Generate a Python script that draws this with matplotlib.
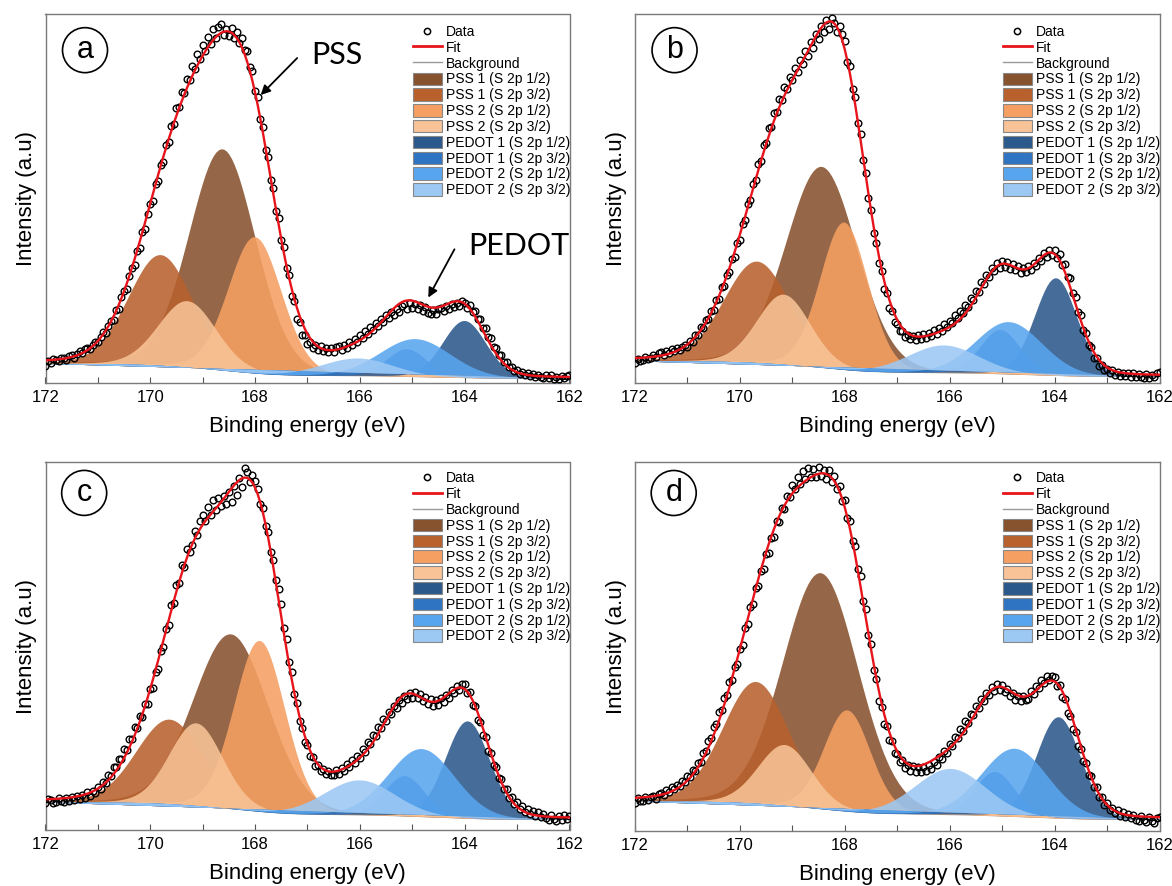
import numpy as np
import matplotlib.pyplot as plt
from matplotlib.lines import Line2D
from matplotlib.patches import Patch, Ellipse

plt.rcParams['font.family'] = ['Liberation Sans', 'DejaVu Sans']

comp_names = ['PSS 1 (S 2p 1/2)', 'PSS 1 (S 2p 3/2)', 'PSS 2 (S 2p 1/2)', 'PSS 2 (S 2p 3/2)',
              'PEDOT 1 (S 2p 1/2)', 'PEDOT 1 (S 2p 3/2)', 'PEDOT 2 (S 2p 1/2)', 'PEDOT 2 (S 2p 3/2)']
comp_colors = ['#87522E', '#B8612D', '#F59F62', '#F8C396',
               '#2C598C', '#2F74C2', '#58A5EF', '#9CC8F4']

# measured spectra, 172 -> 162 eV in 0.05 eV steps (10 points per row)
data_a = [4.6, 5.9, 5.5, 6.4, 6.3, 6.0, 6.9, 6.8, 6.3, 7.4,
          7.6, 6.9, 7.9, 8.6, 8.0, 9.3, 9.6, 9.2, 10.4, 11.2,
          11.0, 12.6, 13.7, 13.6, 15.5, 16.9, 17.1, 19.8, 20.1, 23.2,
          24.9, 25.6, 28.9, 31.3, 31.9, 35.8, 36.6, 40.9, 41.8, 45.7,
          48.4, 49.3, 53.9, 54.8, 59.1, 60.0, 64.5, 65.2, 69.6, 70.1,
          74.4, 74.7, 78.9, 78.6, 82.5, 82.1, 86.0, 85.2, 89.1, 87.9,
          91.6, 90.1, 93.9, 92.0, 95.8, 93.4, 96.4, 97.4, 94.2, 95.9,
          94.0, 96.3, 93.6, 95.2, 92.1, 93.5, 90.2, 90.1, 85.6, 84.5,
          79.2, 77.4, 71.5, 69.4, 63.1, 61.2, 55.0, 52.8, 46.6, 44.6,
          38.7, 36.8, 31.1, 29.2, 23.7, 22.1, 17.3, 16.5, 12.9, 12.9,
          10.5, 11.1, 9.4, 10.3, 9.0, 9.9, 8.6, 9.6, 8.5, 9.5,
          8.4, 9.7, 9.9, 9.0, 10.4, 9.6, 11.0, 10.3, 11.9, 11.2,
          12.9, 12.2, 14.1, 13.3, 15.2, 14.4, 16.3, 15.4, 17.4, 16.6,
          18.4, 17.5, 19.3, 18.4, 20.1, 19.2, 20.9, 21.3, 20.1, 21.6,
          20.4, 21.5, 20.1, 21.1, 19.5, 20.5, 18.9, 18.7, 19.9, 18.8,
          20.0, 20.3, 19.4, 20.8, 20.0, 21.4, 20.5, 21.8, 20.8, 22.1,
          21.8, 20.4, 21.2, 19.2, 19.6, 17.3, 17.4, 15.0, 14.8, 12.4,
          12.1, 9.8, 9.6, 7.5, 7.5, 5.7, 5.7, 4.3, 4.4, 3.3,
          3.5, 2.5, 2.9, 2.1, 2.6, 1.8, 2.4, 1.6, 2.3, 1.5,
          1.3, 2.2, 1.4, 2.1, 1.2, 1.6, 1.1, 2.0, 1.3, 1.9,
          2.1]
data_b = [5.4, 6.6, 5.9, 6.2, 7.1, 6.4, 6.7, 7.6, 7.0, 8.1,
          8.3, 7.6, 8.8, 8.1, 9.2, 8.6, 9.5, 8.9, 9.8, 10.3,
          9.8, 11.5, 11.2, 13.1, 13.0, 15.1, 14.8, 17.2, 17.3, 19.6,
          19.8, 22.6, 22.8, 25.9, 26.2, 29.4, 30.1, 33.5, 34.2, 37.9,
          38.7, 43.1, 44.2, 48.6, 49.7, 54.0, 55.1, 59.3, 60.2, 64.5,
          65.0, 69.1, 69.4, 73.3, 73.5, 77.0, 76.8, 80.2, 79.6, 82.9,
          82.1, 85.4, 84.3, 87.6, 86.4, 89.9, 88.7, 92.3, 90.8, 94.6,
          93.2, 96.8, 95.1, 98.4, 96.0, 98.9, 97.6, 95.2, 96.7, 94.6,
          92.6, 87.1, 86.0, 79.7, 77.5, 70.4, 67.6, 60.3, 57.0, 50.1,
          47.0, 40.6, 37.9, 32.4, 30.4, 25.6, 24.3, 20.4, 19.5, 16.5,
          16.1, 14.0, 14.2, 12.6, 13.1, 11.8, 12.7, 11.6, 12.9, 11.9,
          13.2, 12.1, 13.6, 12.8, 14.3, 13.4, 14.9, 14.2, 15.9, 15.1,
          16.9, 16.2, 18.3, 17.5, 19.6, 18.9, 21.2, 20.6, 23.1, 22.5,
          25.0, 24.6, 27.3, 26.8, 29.4, 28.7, 31.2, 30.3, 32.5, 31.2,
          33.0, 31.4, 32.8, 31.0, 32.2, 30.5, 31.6, 29.9, 31.3, 30.1,
          31.7, 30.6, 32.6, 31.8, 33.9, 33.0, 35.1, 34.1, 36.0, 34.6,
          36.1, 34.0, 35.0, 32.1, 32.3, 28.8, 28.4, 24.3, 23.4, 19.3,
          18.3, 14.4, 13.5, 10.2, 9.7, 6.9, 6.8, 4.7, 5.0, 3.4,
          3.9, 2.7, 3.4, 2.3, 3.1, 2.0, 2.8, 1.9, 2.7, 1.7,
          2.6, 1.6, 2.5, 1.5, 1.3, 2.4, 1.4, 2.2, 1.5, 2.6,
          2.9]
data_c = [7.4, 8.5, 8.1, 7.3, 7.6, 8.7, 7.9, 7.5, 8.6, 8.0,
          8.9, 8.2, 9.3, 8.4, 9.5, 8.8, 10.2, 9.3, 10.6, 10.1,
          11.6, 11.1, 13.0, 12.8, 14.9, 14.6, 17.2, 17.0, 19.4, 19.2,
          21.9, 21.7, 24.7, 24.8, 27.9, 27.7, 30.9, 30.8, 34.3, 34.2,
          38.2, 38.5, 42.9, 43.8, 48.6, 49.6, 54.7, 55.6, 61.1, 61.7,
          66.7, 67.0, 71.9, 71.6, 76.4, 75.5, 77.4, 81.3, 80.2, 84.1,
          85.6, 83.9, 87.9, 85.7, 89.6, 87.0, 90.3, 88.1, 90.7, 88.6,
          91.8, 89.1, 93.4, 91.0, 95.6, 93.1, 98.3, 97.2, 94.6, 96.4,
          94.9, 92.7, 88.6, 87.5, 82.6, 80.9, 75.6, 73.5, 67.9, 65.6,
          61.4, 54.9, 52.0, 45.6, 42.9, 37.0, 34.5, 29.6, 27.8, 24.0,
          23.1, 20.2, 19.8, 17.5, 17.6, 15.9, 16.6, 15.2, 16.1, 14.9,
          15.0, 16.3, 15.2, 16.9, 16.0, 17.8, 17.0, 18.9, 18.2, 20.2,
          19.6, 21.9, 21.3, 23.8, 23.3, 25.9, 25.5, 28.1, 27.6, 30.2,
          29.7, 32.1, 31.5, 33.8, 33.1, 35.3, 34.5, 36.5, 35.5, 37.2,
          36.0, 37.4, 35.8, 36.9, 35.0, 36.1, 34.2, 35.5, 33.8, 35.3,
          33.9, 35.8, 34.7, 36.8, 35.9, 38.0, 37.2, 39.1, 38.1, 39.7,
          39.8, 37.1, 37.6, 34.1, 33.6, 29.9, 29.4, 25.8, 25.3, 21.6,
          21.0, 17.6, 17.2, 14.1, 13.9, 11.1, 11.2, 8.7, 9.1, 7.0,
          7.5, 5.8, 6.5, 4.9, 5.7, 4.3, 5.2, 3.8, 4.8, 3.5,
          4.4, 3.2, 2.7, 4.1, 3.0, 2.5, 3.9, 2.8, 4.0, 3.1,
          3.8]
data_d = [7.6, 8.9, 8.0, 8.2, 9.1, 8.4, 9.3, 9.6, 8.8, 9.9,
          10.3, 9.7, 11.1, 10.6, 11.9, 11.4, 12.6, 12.2, 13.6, 13.2,
          14.9, 14.6, 16.6, 16.3, 18.5, 18.8, 21.2, 21.7, 24.5, 25.1,
          28.1, 28.9, 32.2, 32.8, 36.1, 36.9, 40.3, 41.0, 44.4, 45.3,
          49.2, 50.5, 55.1, 56.2, 60.7, 61.6, 65.9, 66.5, 70.4, 71.0,
          75.0, 75.4, 79.5, 79.8, 83.9, 83.7, 87.6, 87.2, 90.9, 90.4,
          93.9, 92.6, 95.9, 94.1, 97.6, 95.4, 98.5, 96.0, 98.1, 95.9,
          98.6, 96.1, 97.9, 95.5, 97.7, 94.6, 96.1, 92.8, 93.6, 89.4,
          89.6, 84.7, 84.1, 78.5, 77.3, 71.0, 69.1, 62.4, 60.1, 53.2,
          50.6, 43.7, 41.1, 35.3, 33.7, 29.1, 28.5, 24.6, 24.5, 21.1,
          21.0, 18.6, 19.2, 17.1, 18.0, 16.3, 17.5, 16.0, 17.3, 15.9,
          17.4, 16.2, 17.8, 16.9, 18.7, 18.0, 20.0, 19.5, 21.7, 21.1,
          23.5, 23.1, 25.5, 25.1, 27.6, 27.2, 29.7, 29.3, 31.8, 31.4,
          33.9, 33.4, 35.8, 35.2, 37.5, 36.8, 38.9, 38.0, 39.8, 38.2,
          39.6, 37.6, 38.5, 36.5, 37.3, 35.5, 36.6, 35.2, 36.6, 35.5,
          35.9, 37.9, 37.1, 39.3, 38.7, 40.8, 40.1, 41.9, 40.8, 42.0,
          41.7, 39.2, 39.5, 36.2, 35.7, 32.1, 31.3, 27.6, 26.7, 23.1,
          22.3, 19.0, 18.5, 15.3, 14.9, 12.0, 11.9, 9.2, 9.3, 7.1,
          7.5, 5.7, 6.3, 4.8, 5.6, 4.2, 5.1, 3.7, 4.7, 3.4,
          4.3, 3.1, 2.7, 4.0, 2.9, 2.4, 3.8, 2.6, 2.2, 3.5,
          3.7]

# fitted components per panel: centre (eV), height (a.u.), FWHM (eV)
center_a = [168.63, 169.81, 168.01, 169.30, 164.01, 165.11, 164.95, 166.05]
height_a = [60.0, 30.0, 37.0, 18.0, 15.5, 7.5, 10.3, 4.8]
fwhm_a = [1.50, 1.45, 1.20, 1.30, 0.98, 0.90, 1.60, 1.60]
bg_a = [5.3, 1.3]

center_b = [168.45, 169.68, 168.02, 169.17, 163.98, 165.04, 164.88, 166.12]
height_b = [54.5, 27.5, 40.0, 19.0, 26.5, 12.0, 14.2, 7.5]
fwhm_b = [1.60, 1.50, 1.08, 1.20, 0.95, 0.90, 1.50, 1.60]
bg_b = [6.0, 1.8]

center_c = [168.47, 169.64, 167.92, 169.13, 163.95, 165.15, 164.83, 166.01]
height_c = [47.5, 23.0, 46.5, 22.5, 26.5, 11.0, 18.5, 9.5]
fwhm_c = [1.70, 1.50, 1.15, 1.20, 1.00, 0.90, 1.50, 1.60]
bg_c = [7.6, 2.9]

center_d = [168.47, 169.70, 167.96, 169.15, 163.93, 165.14, 164.77, 165.99]
height_d = [64.0, 33.0, 27.5, 16.5, 27.5, 12.0, 18.5, 12.5]
fwhm_d = [1.70, 1.50, 1.05, 1.20, 1.00, 0.90, 1.50, 1.60]
bg_d = [8.1, 3.2]

panels = [
    ('a', data_a, center_a, height_a, fwhm_a, bg_a, [45.5, 14, 569.5, 383]),
    ('b', data_b, center_b, height_b, fwhm_b, bg_b, [635, 14, 1159.5, 383]),
    ('c', data_c, center_c, height_c, fwhm_c, bg_c, [45.5, 462, 569.5, 830]),
    ('d', data_d, center_d, height_d, fwhm_d, bg_d, [635, 462, 1159.5, 831]),
]

energy = np.round(172.0 - 0.05 * np.arange(201), 2)


def peak(c, h, w, m=0.1):
    # Gaussian-Lorentzian line shape
    d = energy - c
    return h * ((1 - m) * np.exp(-4 * np.log(2) * d ** 2 / w ** 2) + m / (1 + 4 * d ** 2 / w ** 2))


def shirley_bg(total, hi, lo):
    # area under the peaks from the low energy end upwards
    t = total[::-1]
    cum = np.concatenate([[0], np.cumsum((t[1:] + t[:-1]) / 2)])
    return (lo + (hi - lo) * cum / cum[-1])[::-1]


W, H = 1172, 886
fig = plt.figure(figsize=(W / 100, H / 100), dpi=100)
for letter, data, cen, hei, fw, bg, box in panels:
    x0, y0, x1, y1 = box
    ax = fig.add_axes([x0 / W, 1 - y1 / H, (x1 - x0) / W, (y1 - y0) / H])
    comps = [peak(c, h, w) for c, h, w in zip(cen, hei, fw)]
    total = np.sum(comps, axis=0)
    shirley = shirley_bg(total, bg[0], bg[1])
    base = bg[1] + (bg[0] - bg[1]) * (energy - 162) / 10
    for comp, col in zip(comps, comp_colors):
        ax.fill_between(energy, base, shirley + comp, color=col, alpha=0.88, lw=0, zorder=2)
    ax.plot(energy, shirley, color='#999999', lw=0.8, zorder=1)
    ax.plot(energy, data, ls='none', marker='o', ms=4.8, mfc='none', mec='black', mew=1.0, zorder=3)
    ax.plot(energy, shirley + total, color='#E8141C', lw=1.7, zorder=4)

    ax.set_xlim(172, 162)
    ax.set_ylim(0, 100)
    ax.set_xticks(np.arange(172, 161, -2))
    ax.set_xticks(np.arange(171, 162, -2), minor=True)
    ax.set_yticks([])
    ax.tick_params(axis='x', which='both', direction='in', length=4, width=0.8,
                   color='#555555', labelsize=12, pad=5)
    for s in ax.spines.values():
        s.set_color('#7a7a7a')
        s.set_linewidth(1.0)
    ax.set_xlabel('Binding energy (eV)', fontsize=16, labelpad=8)
    ax.set_ylabel('Intensity (a.u)', fontsize=16, labelpad=6)

    # circled panel letter
    pw, ph = x1 - x0, y1 - y0
    cx, cy = (0.0754, 0.902) if letter in 'ab' else (0.0738, 0.916)
    ax.add_patch(Ellipse((cx, cy), 45 / pw, 45 / ph, transform=ax.transAxes,
                         fc='white', ec='black', lw=1.2, zorder=6))
    ax.text(cx, cy, letter, transform=ax.transAxes, ha='center', va='center',
            fontsize=22, zorder=7)

    handles = [Line2D([], [], ls='none', marker='o', ms=4.5, mfc='white', mec='black', mew=1.1),
               Line2D([], [], color='#E8141C', lw=2),
               Line2D([], [], color='#999999', lw=1)]
    handles += [Patch(fc=col, ec='#888888', lw=0.8) for col in comp_colors]
    labels = ['Data', 'Fit', 'Background'] + comp_names
    ax.legend(handles, labels, loc='upper left', bbox_to_anchor=(0.701, 0.970 if letter in 'ab' else 0.9745),
              frameon=False, fontsize=10, handlelength=2.1, handleheight=1.0,
              handletextpad=0.3, labelspacing=0.13, borderpad=0, borderaxespad=0)

    if letter == 'a':
        ax.annotate('', xy=(167.93, 77.5), xytext=(167.16, 88.6),
                    arrowprops=dict(arrowstyle='-|>', color='black', lw=1.3, mutation_scale=14))
        ax.annotate('', xy=(164.72, 22.5), xytext=(164.17, 36.9),
                    arrowprops=dict(arrowstyle='-|>', color='black', lw=1.3, mutation_scale=14))
        ax.text(166.43, 88.8, 'PSS', fontsize=22, family=['Lato', 'DejaVu Sans'], ha='center', va='center')
        ax.text(162.96, 37.0, 'PEDOT', fontsize=22, family=['Lato', 'DejaVu Sans'], ha='center', va='center')

fig.savefig('out.png', dpi=100)
